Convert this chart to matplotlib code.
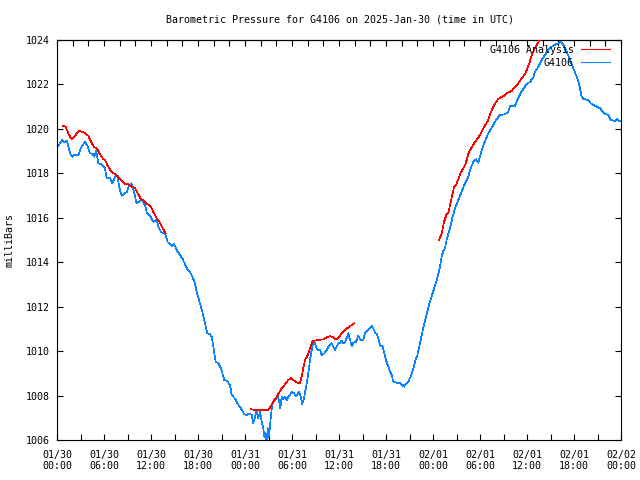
import numpy as np
import matplotlib
matplotlib.use("Agg")
import matplotlib.pyplot as plt
from matplotlib.lines import Line2D

# ---------------- data (hours since 2025-01-30 00:00 UTC, millibars) ----------------
obs_hours = [0.00, 0.17, 0.68, 0.93, 1.24, 1.44, 1.66, 1.95, 2.21, 2.72, 3.06, 3.57, 3.87, 4.21, 4.56, 4.76,
             5.02, 5.27, 5.71, 6.13, 6.34, 6.77, 7.06, 7.40, 7.75, 7.91, 8.26, 8.59, 8.90, 9.19, 9.45, 9.66,
             9.96, 10.17, 10.60, 10.89, 11.23, 11.45, 11.87, 12.29, 12.51, 12.73, 12.93, 13.28, 13.79, 14.00,
             14.13, 14.43, 14.72, 14.97, 15.28, 15.70, 16.00, 16.34, 16.69, 16.98, 17.27, 17.62, 17.83, 18.13,
             18.55, 18.89, 19.19, 19.53, 19.75, 19.95, 20.26, 20.59, 20.94, 21.36, 21.66, 22.09, 22.30, 22.63,
             22.81, 23.23, 23.58, 23.87, 24.22, 24.55, 24.86, 25.06, 25.28, 25.49, 25.70, 25.91, 26.13, 26.34,
             26.46, 26.64, 26.77, 26.90, 27.06, 27.32, 27.49, 27.74, 27.96, 28.18, 28.34, 28.51, 28.69, 28.89,
             29.11, 29.32, 29.53, 29.74, 29.96, 30.26, 30.47, 30.68, 30.89, 31.11, 31.31, 31.57, 31.79, 32.08,
             32.30, 32.51, 32.72, 32.94, 33.15, 33.36, 33.57, 33.79, 34.12, 34.43, 34.63, 34.85, 35.07, 35.27,
             35.49, 35.71, 35.91, 36.13, 36.34, 36.55, 36.77, 36.98, 37.19, 37.40, 37.62, 37.83, 38.04, 38.17,
             38.46, 38.77, 39.10, 39.32, 39.61, 39.96, 40.17, 40.38, 40.60, 40.81, 41.02, 41.23, 41.58, 41.74,
             42.00, 42.29, 42.51, 42.73, 42.93, 43.37, 43.79, 44.13, 44.30, 44.55, 44.85, 45.06, 45.28, 45.49,
             45.70, 46.00, 46.34, 46.76, 47.20, 47.62, 48.04, 48.47, 48.89, 49.11, 49.31, 49.53, 49.74, 50.17,
             50.51, 50.81, 51.23, 51.66, 52.09, 52.51, 52.81, 53.15, 53.49, 53.78, 54.00, 54.22, 54.64, 55.02,
             55.53, 56.04, 56.55, 57.19, 57.62, 57.83, 58.47, 58.76, 59.11, 59.53, 59.96, 60.38, 60.80, 61.02,
             61.44, 61.88, 62.30, 62.72, 63.15, 63.70, 64.00, 64.30, 64.63, 65.07, 65.49, 65.91, 66.34, 66.68,
             66.98, 67.19, 67.83, 68.13, 68.68, 69.32, 69.83, 70.38, 70.68, 71.23, 71.53, 71.79, 72.00]
obs_mb = [1019.23, 1019.24, 1019.50, 1019.40, 1019.46, 1019.24, 1018.90, 1018.75, 1018.83, 1018.83, 1019.15,
          1019.42, 1019.24, 1018.90, 1018.87, 1018.75, 1019.00, 1018.45, 1018.41, 1018.23, 1017.78, 1017.80,
          1017.55, 1017.85, 1017.89, 1017.40, 1016.99, 1017.10, 1017.15, 1017.44, 1017.55, 1017.40, 1016.95,
          1016.65, 1016.76, 1016.80, 1016.57, 1016.25, 1016.09, 1015.82, 1015.87, 1015.94, 1015.60, 1015.35,
          1015.30, 1015.08, 1014.90, 1014.81, 1014.73, 1014.81, 1014.55, 1014.32, 1014.18, 1013.91, 1013.65,
          1013.57, 1013.35, 1013.05, 1012.67, 1012.30, 1011.77, 1011.25, 1010.80, 1010.76, 1010.65, 1010.20,
          1009.52, 1009.45, 1009.23, 1008.70, 1008.67, 1008.47, 1008.02, 1007.90, 1007.80, 1007.53, 1007.38,
          1007.17, 1007.12, 1007.20, 1007.12, 1006.75, 1007.05, 1007.35, 1006.98, 1007.27, 1006.82, 1006.53,
          1006.15, 1006.30, 1005.85, 1006.53, 1006.15, 1007.12, 1007.65, 1007.80, 1007.83, 1007.95, 1007.80,
          1007.43, 1007.95, 1007.83, 1007.95, 1007.80, 1007.95, 1008.02, 1008.17, 1008.10, 1007.98, 1008.02,
          1008.17, 1007.95, 1007.62, 1007.95, 1008.37, 1009.00, 1009.60, 1010.05, 1010.42, 1010.35, 1010.13,
          1010.05, 1010.08, 1009.82, 1009.90, 1010.05, 1010.20, 1010.28, 1010.35, 1010.20, 1010.05, 1010.20,
          1010.35, 1010.38, 1010.47, 1010.35, 1010.42, 1010.58, 1010.80, 1010.53, 1010.23, 1010.38, 1010.40,
          1010.42, 1010.68, 1010.50, 1010.50, 1010.80, 1010.92, 1011.03, 1011.14, 1011.03, 1010.83, 1010.77,
          1010.58, 1010.27, 1010.20, 1009.97, 1009.60, 1009.30, 1009.07, 1008.92, 1008.62, 1008.58, 1008.55,
          1008.47, 1008.40, 1008.52, 1008.62, 1008.78, 1009.00, 1009.23, 1009.52, 1009.82, 1010.35, 1011.04,
          1011.67, 1012.25, 1012.70, 1013.20, 1013.78, 1014.28, 1014.50, 1014.63, 1015.00, 1015.53, 1016.05,
          1016.43, 1016.80, 1017.17, 1017.55, 1017.85, 1018.23, 1018.52, 1018.63, 1018.48, 1018.75, 1019.05,
          1019.45, 1019.77, 1020.08, 1020.40, 1020.62, 1020.66, 1020.77, 1021.03, 1021.04, 1021.30, 1021.56,
          1021.80, 1022.01, 1022.12, 1022.30, 1022.57, 1022.80, 1023.10, 1023.33, 1023.55, 1023.70, 1023.81,
          1023.85, 1023.95, 1023.78, 1023.47, 1023.10, 1022.73, 1022.35, 1021.98, 1021.45, 1021.35, 1021.30,
          1021.15, 1021.04, 1020.93, 1020.70, 1020.62, 1020.40, 1020.36, 1020.44, 1020.36, 1020.36]

ana_hours_1 = [0.80, 1.11, 1.53, 1.88, 2.30, 2.81, 3.15, 3.57, 4.00, 4.34, 4.76, 5.07, 5.49, 5.91, 6.13, 6.47,
               6.89, 7.40, 7.75, 8.26, 8.68, 9.10, 9.54, 9.96, 10.30, 10.72, 11.14, 11.58, 12.00, 12.29, 12.73,
               13.02, 13.37, 13.88]
ana_mb_1 = [1020.14, 1020.10, 1019.72, 1019.54, 1019.69, 1019.92, 1019.87, 1019.83, 1019.69, 1019.42, 1019.17,
            1019.13, 1018.86, 1018.64, 1018.60, 1018.34, 1018.10, 1017.96, 1017.85, 1017.65, 1017.52, 1017.51,
            1017.40, 1017.35, 1017.10, 1016.84, 1016.76, 1016.61, 1016.50, 1016.27, 1015.98, 1015.86, 1015.60,
            1015.30]
ana_hours_2 = [24.77, 25.49, 26.13, 26.97, 27.32, 27.61, 27.92, 28.25, 28.60, 28.89, 29.20, 29.53, 29.87, 30.17,
               30.47, 30.80, 31.02, 31.24, 31.44, 31.66, 32.00, 32.30, 32.59, 32.85, 33.36, 34.00, 34.43, 34.85,
               35.27, 35.58, 35.91, 36.34, 36.77, 37.19, 37.62, 37.95]
ana_mb_2 = [1007.38, 1007.35, 1007.35, 1007.35, 1007.53, 1007.72, 1007.88, 1008.07, 1008.28, 1008.40, 1008.55,
            1008.70, 1008.78, 1008.70, 1008.62, 1008.55, 1008.58, 1008.85, 1009.23, 1009.60, 1009.82, 1010.13,
            1010.42, 1010.47, 1010.50, 1010.53, 1010.62, 1010.68, 1010.62, 1010.53, 1010.58, 1010.80, 1010.95,
            1011.07, 1011.17, 1011.25]
ana_hours_3 = [48.80, 49.11, 49.41, 49.75, 49.95, 50.17, 50.46, 50.68, 50.94, 51.23, 51.54, 51.79, 52.09, 52.30,
               52.51, 52.72, 53.36, 54.00, 54.51, 55.06, 55.40, 55.79, 56.30, 56.55, 57.19, 57.62, 58.05, 58.47,
               58.89, 59.32, 59.74, 59.96, 60.29, 60.60, 60.89, 61.24, 61.57, 61.88, 62.30]
ana_mb_3 = [1015.00, 1015.30, 1015.82, 1016.17, 1016.20, 1016.57, 1017.02, 1017.37, 1017.48, 1017.73, 1018.03,
            1018.18, 1018.37, 1018.60, 1018.87, 1019.05, 1019.41, 1019.72, 1020.08, 1020.40, 1020.76, 1021.07,
            1021.34, 1021.40, 1021.52, 1021.65, 1021.70, 1021.90, 1022.05, 1022.28, 1022.46, 1022.65, 1022.95,
            1023.33, 1023.55, 1023.78, 1023.96, 1024.05, 1024.20]

tick_hours = [0, 6, 12, 18, 24, 30, 36, 42, 48, 54, 60, 66, 72]
tick_labels = ["01/30\n00:00", "01/30\n06:00", "01/30\n12:00", "01/30\n18:00",
               "01/31\n00:00", "01/31\n06:00", "01/31\n12:00", "01/31\n18:00",
               "02/01\n00:00", "02/01\n06:00", "02/01\n12:00", "02/01\n18:00",
               "02/02\n00:00"]
y_ticks = [1006, 1008, 1010, 1012, 1014, 1016, 1018, 1020, 1022, 1024]

title = "Barometric Pressure for G4106 on 2025-Jan-30 (time in UTC)"
ylabel = "milliBars"
label_ana = "G4106 Analysis"
label_obs = "G4106"

# ---------------- style ----------------
FONT = "DejaVu Sans Mono"
FS = 7.2
RED = "#ff0000"
BLUE = "#0a84ff"

plt.rcParams["font.family"] = FONT
plt.rcParams["font.size"] = FS

fig = plt.figure(figsize=(6.4, 4.8), dpi=100)
ax = fig.add_axes([57 / 640, 40 / 480, 564 / 640, 400 / 480])

lw = 0.5
ax.plot(obs_hours, obs_mb, color=BLUE, lw=lw, antialiased=False, zorder=2)
for hh, pp in [(ana_hours_1, ana_mb_1), (ana_hours_2, ana_mb_2), (ana_hours_3, ana_mb_3)]:
    ax.plot(hh, pp, color=RED, lw=lw, antialiased=False, zorder=3)

ax.set_xlim(0, 72)
ax.set_ylim(1006, 1024)

ax.set_xticks(tick_hours)
ax.set_xticklabels(tick_labels, linespacing=1.2)
ax.set_xticks(np.arange(0, 73, 3), minor=True)
ax.set_yticks(y_ticks)
ax.set_yticklabels([str(v) for v in y_ticks])

ax.tick_params(axis="both", which="both", direction="in", length=4.5, width=0.8,
               top=False, right=True, labelsize=FS, color="black")
ax.tick_params(axis="x", which="major", pad=7)
ax.tick_params(axis="y", which="major", pad=5)

# top axis ticks (every 2 hours, no labels)
sec = ax.secondary_xaxis("top")
sec.set_xticks(np.arange(0, 73, 2))
sec.tick_params(direction="in", length=4.5, width=0.8, labeltop=False)
for s in sec.spines.values():
    s.set_linewidth(0.8)

for s in ax.spines.values():
    s.set_linewidth(0.8)

fig.text(340 / 640, 1 - 19 / 480, title, ha="center", va="center", fontsize=FS)
fig.text(10 / 640, 0.5, ylabel, rotation=90, ha="center", va="center", fontsize=FS)

handles = [Line2D([], [], color=RED, lw=0.8), Line2D([], [], color=BLUE, lw=0.8)]
ax.legend(handles, [label_ana, label_obs], loc="upper right", frameon=False,
          markerfirst=False, fontsize=FS, handlelength=2.9, handletextpad=0.75,
          labelspacing=0.3, borderaxespad=0.0, borderpad=0.0,
          bbox_to_anchor=((610 - 57) / 564, 1 - 5 / 400))

fig.savefig("out.png", dpi=100)
